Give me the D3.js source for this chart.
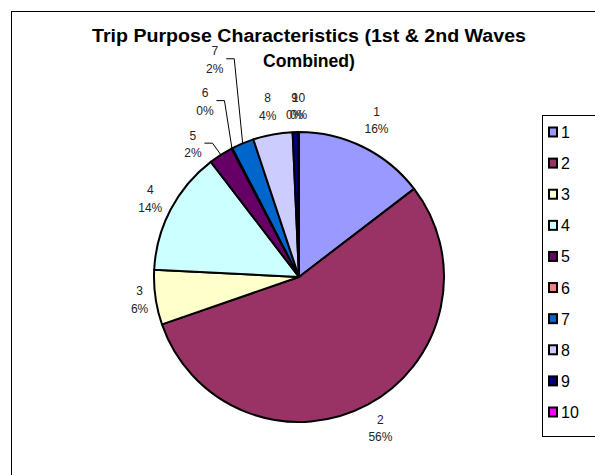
<!DOCTYPE html>
<html>
<head>
<meta charset="utf-8">
<script src="https://cdn.jsdelivr.net/npm/d3@7"></script>
<style>
  html, body { margin: 0; padding: 0; background: #fff; }
  svg { display: block; font-family: "Liberation Sans", Arial, sans-serif; }
</style>
</head>
<body>
<svg id="chart" width="595" height="475"></svg>
<script>
// ---- data ----
const categories = ["1", "2", "3", "4", "5", "6", "7", "8", "9", "10"];
const shares = [14.6, 55.1, 6.1, 13.8, 2.7, 0.1, 2.5, 4.4, 0.6, 0.1];
const pctLabels = ["16%", "56%", "6%", "14%", "2%", "0%", "2%", "4%", "0%", "0%"];
const colors = ["#9999FF", "#993366", "#FFFFCC", "#CCFFFF", "#660066",
                "#FF8080", "#0066CC", "#CCCCFF", "#000080", "#FF00FF"];
const titleLines = ["Trip Purpose Characteristics (1st & 2nd Waves", "Combined)"];

// ---- layout ----
const W = 595, H = 475;
const cx = 299, cy = 277, R = 145;
// extra radial distance of each label beyond the pie edge, and optional angle override (deg)
const labelGap = [30, 27, 16, 23, 25, 54, 88, 28, 26, 26];
const labelAngle = [null, null, null, null, 321.4, 331.8, 338.8, null, null, null];
const leader = [false, false, false, false, true, true, true, false, false, false];

const svg = d3.select("#chart");

// outer chart frame (extends past the picture edges)
svg.append("rect").attr("x", 11.5).attr("y", 11.5).attr("width", 600).attr("height", 480)
  .attr("fill", "#fff").attr("stroke", "#000").attr("stroke-width", 1);

// title
const title = svg.append("g").attr("font-weight", "bold").attr("font-size", 18)
  .attr("text-anchor", "middle").attr("fill", "#000");
const titleLen = [434, 92];
titleLines.forEach((t, i) => {
  title.append("text").attr("x", 309).attr("y", 42 + i * 25)
    .attr("textLength", titleLen[i]).attr("lengthAdjust", "spacingAndGlyphs").text(t);
});

// pie
const pie = d3.pie().sort(null).value(d => d).startAngle(0).endAngle(2 * Math.PI);
const arcs = pie(shares);
const arc = d3.arc().innerRadius(0).outerRadius(R);
const g = svg.append("g").attr("transform", `translate(${cx},${cy})`);
g.selectAll("path.slice").data(arcs).join("path").attr("class", "slice")
  .attr("d", arc).attr("fill", (d, i) => colors[i])
  .attr("stroke", "#000").attr("stroke-width", 2).attr("stroke-linejoin", "round");

// labels
const lab = g.append("g").attr("font-size", 12).attr("fill", "#222").attr("text-anchor", "middle");
const pt = (angDeg, r) => {
  const a = angDeg * Math.PI / 180;
  return [r * Math.sin(a), -r * Math.cos(a)];
};
arcs.forEach((d, i) => {
  const mid = (d.startAngle + d.endAngle) / 2 * 180 / Math.PI;
  const ang = labelAngle[i] == null ? mid : labelAngle[i];
  const [lx, ly] = pt(ang, R + labelGap[i]);
  const t = lab.append("text").attr("x", lx).attr("y", ly);
  t.append("tspan").attr("x", lx).attr("dy", -4.5).text(categories[i]);
  t.append("tspan").attr("x", lx).attr("dy", 17.5).text(pctLabels[i]);
  if (leader[i]) {
    const w = 17;
    const sx = lx + w / 2 + 3, sy = ly - 1;
    const [ex, ey] = pt(mid, R);
    g.append("path").attr("d", `M${sx},${sy}H${sx + 8}L${ex},${ey}`)
      .attr("fill", "none").attr("stroke", "#000").attr("stroke-width", 1);
  }
});

// legend
const lg = svg.append("g");
lg.append("rect").attr("x", 542.5).attr("y", 115.5).attr("width", 80).attr("height", 321)
  .attr("fill", "#fff").attr("stroke", "#000").attr("stroke-width", 1);
const ly = d3.scalePoint().domain(categories).range([132, 412]);
categories.forEach((c, i) => {
  const y = ly(c);
  lg.append("rect").attr("x", 549).attr("y", y - 4.5).attr("width", 8).attr("height", 9)
    .attr("fill", colors[i]).attr("stroke", "#000").attr("stroke-width", 2);
  lg.append("text").attr("x", 561).attr("y", y + 6).attr("font-size", 16).attr("fill", "#000").text(c);
});
</script>
</body>
</html>
